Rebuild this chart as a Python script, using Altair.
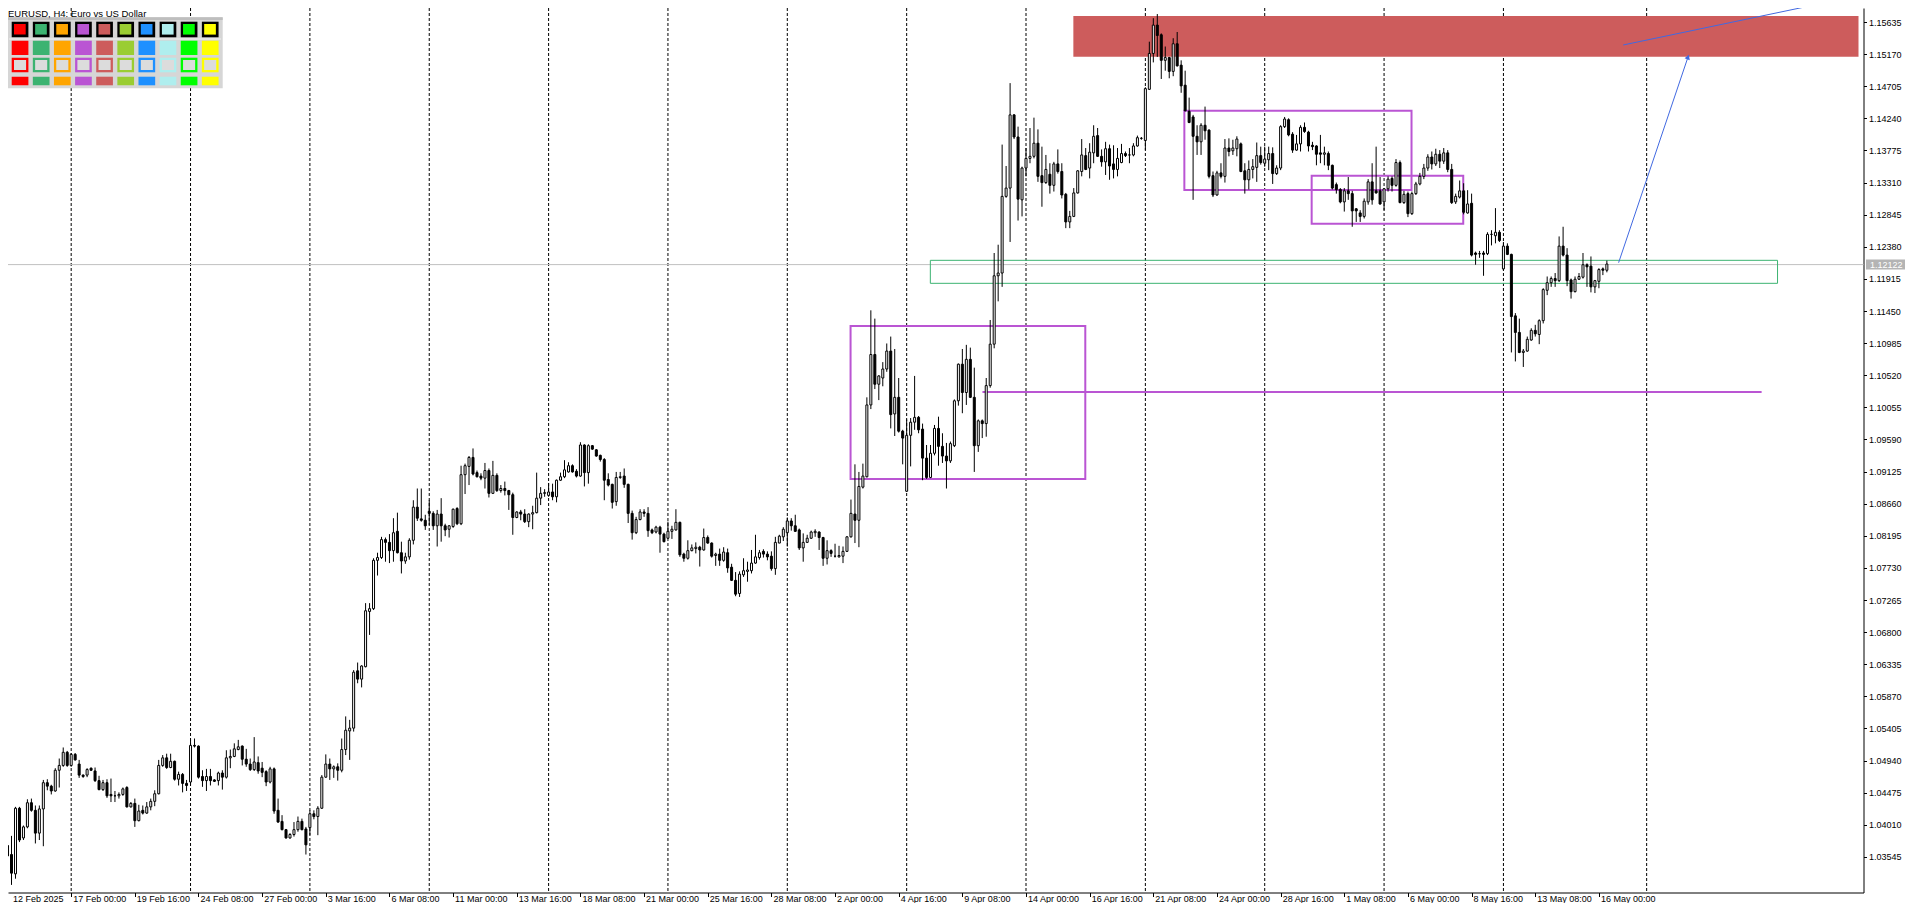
import altair as alt
import pandas as pd

# ---------------- data (EURUSD H4) ----------------
OPEN = [1.0371,1.0358,1.0330,1.0425,1.0382,1.0398,1.0433,1.0422,1.0389,1.0424,
1.0462,1.0457,1.0450,1.0480,1.0487,1.0506,1.0487,1.0503,1.0489,1.0473,
1.0473,1.0483,1.0479,1.0465,1.0452,1.0462,1.0445,1.0443,1.0443,1.0445,
1.0455,1.0427,1.0432,1.0407,1.0422,1.0418,1.0427,1.0435,1.0446,1.0487,
1.0498,1.0484,1.0493,1.0467,1.0474,1.0461,1.0463,1.0516,1.0515,1.0471,
1.0465,1.0471,1.0466,1.0465,1.0476,1.0470,1.0498,1.0500,1.0510,1.0515,
1.0496,1.0489,1.0481,1.0491,1.0483,1.0478,1.0463,1.0482,1.0422,1.0406,
1.0394,1.0382,1.0387,1.0394,1.0406,1.0395,1.0397,1.0417,1.0413,1.0425,
1.0470,1.0489,1.0482,1.0485,1.0480,1.0510,1.0537,1.0541,1.0624,1.0612,
1.0630,1.0710,1.0714,1.0784,1.0788,1.0814,1.0810,1.0798,1.0826,1.0795,
1.0783,1.0789,1.0813,1.0861,1.0844,1.0842,1.0855,1.0852,1.0834,1.0851,
1.0834,1.0829,1.0833,1.0859,1.0837,1.0908,1.0920,1.0933,1.0911,1.0906,
1.0903,1.0914,1.0881,1.0907,1.0885,1.0888,1.0885,1.0879,1.0846,1.0854,
1.0851,1.0840,1.0851,1.0853,1.0874,1.0881,1.0878,1.0883,1.0876,1.0900,
1.0905,1.0912,1.0921,1.0913,1.0906,1.0951,1.0911,1.0950,1.0944,1.0936,
1.0930,1.0901,1.0894,1.0869,1.0904,1.0906,1.0894,1.0852,1.0824,1.0843,
1.0854,1.0852,1.0828,1.0825,1.0832,1.0822,1.0816,1.0826,1.0828,1.0839,
1.0793,1.0787,1.0798,1.0801,1.0803,1.0799,1.0817,1.0809,1.0791,1.0793,
1.0784,1.0795,1.0774,1.0755,1.0736,1.0763,1.0768,1.0769,1.0780,1.0788,
1.0797,1.0793,1.0790,1.0772,1.0809,1.0818,1.0824,1.0841,1.0834,1.0828,
1.0802,1.0810,1.0816,1.0824,1.0825,1.0817,1.0787,1.0798,1.0790,1.0789,
1.0790,1.0797,1.0818,1.0851,1.0842,1.0890,1.0905,1.1009,1.1082,1.1039,
1.1048,1.1061,1.1087,1.0996,1.1020,1.0971,1.0884,1.0965,1.0984,1.0991,
1.0974,1.0932,1.0904,1.0939,1.0975,1.0949,1.0935,1.0928,1.0950,1.1015,
1.1068,1.1027,1.1075,1.1020,1.0950,1.0986,1.0982,1.1037,1.1097,1.1196,
1.1200,1.1311,1.1323,1.1429,1.1397,1.1306,1.1352,1.1366,1.1369,1.1388,
1.1341,1.1331,1.1343,1.1327,1.1358,1.1347,1.1314,1.1274,1.1282,1.1316,
1.1347,1.1370,1.1352,1.1374,1.1399,1.1369,1.1361,1.1380,1.1358,1.1350,
1.1360,1.1373,1.1371,1.1371,1.1384,1.1395,1.1392,1.1466,1.1518,1.1559,
1.1545,1.1508,1.1512,1.1492,1.1532,1.1501,1.1472,1.1434,1.1426,1.1398,
1.1390,1.1414,1.1407,1.1341,1.1313,1.1345,1.1340,1.1381,1.1377,1.1380,
1.1387,1.1348,1.1335,1.1350,1.1353,1.1370,1.1359,1.1364,1.1373,1.1344,
1.1352,1.1412,1.1422,1.1401,1.1378,1.1387,1.1411,1.1404,1.1385,1.1384,
1.1374,1.1372,1.1373,1.1356,1.1328,1.1321,1.1303,1.1319,1.1315,1.1293,
1.1287,1.1282,1.1303,1.1332,1.1319,1.1319,1.1303,1.1322,1.1337,1.1327,
1.1360,1.1302,1.1315,1.1286,1.1315,1.1329,1.1340,1.1352,1.1368,1.1358,
1.1372,1.1362,1.1374,1.1350,1.1303,1.1310,1.1319,1.1287,1.1301,1.1229,
1.1228,1.1229,1.1228,1.1256,1.1254,1.1259,1.1206,1.1239,1.1227,1.1138,
1.1114,1.1085,1.1087,1.1103,1.1117,1.1111,1.1131,1.1175,1.1186,1.1192,
1.1189,1.1239,1.1226,1.1190,1.1173,1.1191,1.1194,1.1212,1.1210,1.1180,
1.1188,1.1206,1.1204]

HIGH = [1.0376,1.0385,1.0427,1.0427,1.0400,1.0438,1.0439,1.0429,1.0429,1.0466,
1.0467,1.0459,1.0483,1.0497,1.0513,1.0508,1.0505,1.0505,1.0495,1.0474,
1.0483,1.0484,1.0484,1.0472,1.0466,1.0467,1.0468,1.0450,1.0448,1.0455,
1.0457,1.0434,1.0439,1.0430,1.0429,1.0434,1.0439,1.0451,1.0495,1.0502,
1.0504,1.0504,1.0494,1.0478,1.0476,1.0466,1.0524,1.0526,1.0516,1.0480,
1.0482,1.0482,1.0467,1.0478,1.0480,1.0509,1.0510,1.0519,1.0524,1.0516,
1.0511,1.0497,1.0528,1.0500,1.0492,1.0480,1.0485,1.0484,1.0439,1.0415,
1.0395,1.0389,1.0405,1.0413,1.0410,1.0398,1.0422,1.0422,1.0428,1.0473,
1.0503,1.0497,1.0487,1.0490,1.0526,1.0558,1.0553,1.0625,1.0636,1.0632,
1.0722,1.0722,1.0787,1.0795,1.0818,1.0817,1.0822,1.0845,1.0853,1.0811,
1.0795,1.0816,1.0871,1.0888,1.0888,1.0850,1.0871,1.0855,1.0857,1.0874,
1.0837,1.0835,1.0859,1.0861,1.0921,1.0924,1.0935,1.0946,1.0914,1.0910,
1.0925,1.0917,1.0928,1.0910,1.0893,1.0898,1.0886,1.0882,1.0855,1.0857,
1.0858,1.0852,1.0863,1.0911,1.0890,1.0887,1.0896,1.0895,1.0901,1.0911,
1.0929,1.0926,1.0923,1.0916,1.0955,1.0952,1.0952,1.0951,1.0945,1.0937,
1.0932,1.0910,1.0895,1.0912,1.0912,1.0917,1.0895,1.0856,1.0847,1.0858,
1.0858,1.0861,1.0830,1.0834,1.0834,1.0824,1.0840,1.0834,1.0858,1.0840,
1.0795,1.0813,1.0807,1.0810,1.0805,1.0830,1.0820,1.0810,1.0795,1.0801,
1.0803,1.0801,1.0779,1.0767,1.0768,1.0787,1.0782,1.0799,1.0821,1.0799,
1.0800,1.0797,1.0797,1.0818,1.0821,1.0832,1.0846,1.0845,1.0850,1.0830,
1.0823,1.0821,1.0827,1.0829,1.0826,1.0818,1.0813,1.0800,1.0808,1.0805,
1.0804,1.0819,1.0872,1.0923,1.0912,1.0924,1.1020,1.1146,1.1134,1.1052,
1.1071,1.1098,1.1108,1.1090,1.1048,1.0973,1.0988,1.0990,1.1051,1.0993,
1.0982,1.0951,1.0951,1.0980,1.0992,1.0968,1.0954,1.0956,1.1017,1.1069,
1.1090,1.1096,1.1092,1.1063,1.0988,1.0988,1.1048,1.1132,1.1229,1.1241,
1.1386,1.1355,1.1475,1.1430,1.1412,1.1354,1.1381,1.1410,1.1425,1.1408,
1.1383,1.1371,1.1359,1.1361,1.1379,1.1359,1.1316,1.1290,1.1323,1.1349,
1.1394,1.1381,1.1388,1.1414,1.1410,1.1379,1.1390,1.1386,1.1385,1.1381,
1.1387,1.1376,1.1381,1.1388,1.1399,1.1397,1.1469,1.1535,1.1569,1.1575,
1.1547,1.1528,1.1513,1.1540,1.1549,1.1508,1.1493,1.1454,1.1429,1.1414,
1.1417,1.1441,1.1408,1.1347,1.1348,1.1359,1.1394,1.1395,1.1393,1.1398,
1.1389,1.1359,1.1363,1.1365,1.1389,1.1383,1.1383,1.1383,1.1382,1.1356,
1.1414,1.1426,1.1424,1.1404,1.1400,1.1414,1.1418,1.1406,1.1390,1.1385,
1.1400,1.1383,1.1376,1.1357,1.1331,1.1323,1.1323,1.1339,1.1319,1.1294,
1.1291,1.1308,1.1336,1.1359,1.1383,1.1339,1.1323,1.1340,1.1340,1.1365,
1.1363,1.1319,1.1318,1.1318,1.1332,1.1345,1.1358,1.1372,1.1376,1.1380,
1.1378,1.1381,1.1378,1.1358,1.1315,1.1334,1.1330,1.1320,1.1315,1.1231,
1.1232,1.1232,1.1259,1.1262,1.1294,1.1262,1.1245,1.1243,1.1228,1.1142,
1.1134,1.1090,1.1108,1.1120,1.1125,1.1133,1.1178,1.1195,1.1195,1.1200,
1.1253,1.1267,1.1236,1.1192,1.1195,1.1200,1.1229,1.1214,1.1224,1.1190,
1.1207,1.1208,1.1218]

LOW = [1.0352,1.0314,1.0323,1.0376,1.0379,1.0396,1.0420,1.0374,1.0379,1.0370,
1.0451,1.0445,1.0449,1.0455,1.0485,1.0485,1.0485,1.0494,1.0469,1.0469,
1.0470,1.0479,1.0463,1.0451,1.0450,1.0440,1.0434,1.0434,1.0439,1.0443,
1.0426,1.0426,1.0398,1.0406,1.0416,1.0417,1.0422,1.0428,1.0445,1.0485,
1.0482,1.0483,1.0465,1.0458,1.0448,1.0450,1.0458,1.0513,1.0468,1.0456,
1.0450,1.0458,1.0463,1.0458,1.0452,1.0468,1.0483,1.0499,1.0509,1.0487,
1.0485,1.0479,1.0479,1.0475,1.0470,1.0457,1.0461,1.0417,1.0404,1.0393,
1.0381,1.0381,1.0384,1.0391,1.0393,1.0358,1.0386,1.0409,1.0386,1.0424,
1.0469,1.0466,1.0469,1.0465,1.0477,1.0502,1.0495,1.0536,1.0606,1.0600,
1.0629,1.0676,1.0712,1.0762,1.0786,1.0782,1.0780,1.0782,1.0794,1.0765,
1.0779,1.0785,1.0807,1.0841,1.0840,1.0828,1.0835,1.0828,1.0804,1.0811,
1.0819,1.0817,1.0831,1.0835,1.0835,1.0880,1.0893,1.0907,1.0904,1.0900,
1.0888,1.0875,1.0880,1.0883,1.0882,1.0878,1.0857,1.0821,1.0845,1.0842,
1.0838,1.0832,1.0829,1.0852,1.0864,1.0876,1.0876,1.0871,1.0868,1.0899,
1.0903,1.0911,1.0911,1.0904,1.0905,1.0891,1.0895,1.0944,1.0934,1.0927,
1.0871,1.0891,1.0859,1.0863,1.0902,1.0889,1.0838,1.0814,1.0822,1.0842,
1.0847,1.0818,1.0822,1.0823,1.0795,1.0810,1.0815,1.0815,1.0827,1.0789,
1.0782,1.0785,1.0797,1.0794,1.0775,1.0798,1.0808,1.0788,1.0776,1.0776,
1.0782,1.0766,1.0754,1.0732,1.0731,1.0760,1.0753,1.0765,1.0779,1.0785,
1.0788,1.0784,1.0769,1.0763,1.0809,1.0812,1.0804,1.0827,1.0825,1.0799,
1.0782,1.0809,1.0815,1.0818,1.0799,1.0776,1.0778,1.0789,1.0788,1.0788,
1.0780,1.0796,1.0817,1.0809,1.0803,1.0888,1.0904,1.1003,1.1032,1.1016,
1.1036,1.1057,1.0975,1.0964,1.0969,1.0923,1.0883,1.0920,1.0973,1.0968,
1.0900,1.0902,1.0903,1.0936,1.0921,1.0925,1.0888,1.0925,1.0948,1.1008,
1.0997,1.1009,1.1019,1.0912,1.0941,1.0961,1.0963,1.1034,1.1091,1.1159,
1.1180,1.1309,1.1245,1.1394,1.1276,1.1282,1.1340,1.1359,1.1366,1.1332,
1.1296,1.1329,1.1315,1.1318,1.1344,1.1308,1.1265,1.1265,1.1281,1.1315,
1.1340,1.1349,1.1337,1.1359,1.1368,1.1354,1.1342,1.1335,1.1337,1.1340,
1.1359,1.1368,1.1359,1.1369,1.1383,1.1393,1.1378,1.1465,1.1505,1.1513,
1.1481,1.1493,1.1482,1.1485,1.1499,1.1461,1.1434,1.1417,1.1306,1.1371,
1.1371,1.1393,1.1337,1.1310,1.1312,1.1337,1.1331,1.1369,1.1371,1.1369,
1.1346,1.1315,1.1321,1.1337,1.1332,1.1357,1.1354,1.1349,1.1329,1.1342,
1.1349,1.1410,1.1398,1.1374,1.1377,1.1376,1.1403,1.1376,1.1378,1.1356,
1.1359,1.1356,1.1349,1.1321,1.1315,1.1301,1.1289,1.1306,1.1267,1.1274,
1.1274,1.1279,1.1299,1.1299,1.1315,1.1299,1.1291,1.1318,1.1318,1.1325,
1.1301,1.1300,1.1281,1.1284,1.1313,1.1327,1.1336,1.1348,1.1350,1.1355,
1.1352,1.1358,1.1346,1.1300,1.1300,1.1308,1.1285,1.1286,1.1224,1.1212,
1.1222,1.1196,1.1226,1.1240,1.1243,1.1245,1.1204,1.1226,1.1085,1.1072,
1.1084,1.1064,1.1086,1.1102,1.1108,1.1097,1.1127,1.1168,1.1180,1.1180,
1.1187,1.1224,1.1181,1.1163,1.1172,1.1190,1.1192,1.1180,1.1172,1.1171,
1.1178,1.1197,1.1201]

CLOSE = [1.0356,1.0331,1.0425,1.0379,1.0398,1.0433,1.0422,1.0389,1.0424,1.0462,
1.0457,1.0450,1.0480,1.0487,1.0506,1.0487,1.0503,1.0495,1.0473,1.0471,
1.0481,1.0480,1.0465,1.0452,1.0462,1.0443,1.0443,1.0443,1.0445,1.0453,
1.0427,1.0432,1.0407,1.0421,1.0418,1.0427,1.0435,1.0446,1.0487,1.0498,
1.0484,1.0493,1.0467,1.0474,1.0461,1.0458,1.0516,1.0515,1.0470,1.0465,
1.0471,1.0465,1.0464,1.0476,1.0470,1.0498,1.0500,1.0511,1.0514,1.0496,
1.0489,1.0481,1.0492,1.0479,1.0477,1.0463,1.0482,1.0421,1.0405,1.0394,
1.0382,1.0387,1.0394,1.0406,1.0394,1.0372,1.0417,1.0413,1.0425,1.0470,
1.0489,1.0482,1.0485,1.0480,1.0510,1.0538,1.0541,1.0622,1.0612,1.0631,
1.0711,1.0714,1.0784,1.0788,1.0814,1.0810,1.0798,1.0824,1.0795,1.0783,
1.0789,1.0813,1.0861,1.0845,1.0842,1.0834,1.0852,1.0834,1.0851,1.0834,
1.0828,1.0834,1.0858,1.0837,1.0908,1.0921,1.0933,1.0909,1.0905,1.0903,
1.0914,1.0881,1.0907,1.0885,1.0888,1.0885,1.0879,1.0846,1.0854,1.0851,
1.0840,1.0851,1.0853,1.0874,1.0881,1.0882,1.0883,1.0876,1.0900,1.0905,
1.0915,1.0921,1.0912,1.0906,1.0951,1.0911,1.0950,1.0945,1.0935,1.0930,
1.0900,1.0893,1.0868,1.0904,1.0905,1.0894,1.0852,1.0824,1.0843,1.0854,
1.0852,1.0827,1.0824,1.0832,1.0822,1.0811,1.0826,1.0829,1.0839,1.0792,
1.0787,1.0798,1.0802,1.0803,1.0799,1.0817,1.0809,1.0790,1.0793,1.0784,
1.0796,1.0773,1.0755,1.0735,1.0764,1.0769,1.0770,1.0780,1.0789,1.0795,
1.0793,1.0789,1.0772,1.0810,1.0819,1.0829,1.0841,1.0834,1.0826,1.0802,
1.0810,1.0816,1.0825,1.0826,1.0817,1.0787,1.0798,1.0794,1.0790,1.0791,
1.0797,1.0818,1.0852,1.0842,1.0891,1.0906,1.1009,1.1082,1.1039,1.1051,
1.1061,1.1087,1.0995,1.1020,1.0971,1.0961,1.0965,1.0984,1.0991,1.0973,
1.0932,1.0904,1.0939,1.0975,1.0949,1.0935,1.0928,1.0953,1.1015,1.1068,
1.1027,1.1075,1.1020,1.0950,1.0986,1.0982,1.1037,1.1097,1.1196,1.1200,
1.1311,1.1323,1.1429,1.1397,1.1307,1.1352,1.1366,1.1369,1.1388,1.1340,
1.1331,1.1350,1.1327,1.1358,1.1347,1.1313,1.1274,1.1282,1.1316,1.1348,
1.1371,1.1350,1.1375,1.1398,1.1369,1.1361,1.1380,1.1355,1.1350,1.1366,
1.1373,1.1370,1.1371,1.1384,1.1396,1.1395,1.1467,1.1518,1.1559,1.1544,
1.1508,1.1512,1.1492,1.1532,1.1500,1.1471,1.1435,1.1418,1.1398,1.1390,
1.1414,1.1406,1.1340,1.1313,1.1345,1.1340,1.1381,1.1376,1.1381,1.1394,
1.1347,1.1335,1.1350,1.1354,1.1370,1.1360,1.1365,1.1373,1.1344,1.1352,
1.1412,1.1423,1.1400,1.1378,1.1387,1.1411,1.1405,1.1384,1.1383,1.1372,
1.1372,1.1374,1.1356,1.1323,1.1321,1.1303,1.1319,1.1315,1.1290,1.1290,
1.1282,1.1304,1.1332,1.1306,1.1316,1.1300,1.1322,1.1336,1.1327,1.1360,
1.1302,1.1314,1.1286,1.1315,1.1329,1.1340,1.1352,1.1368,1.1358,1.1372,
1.1362,1.1374,1.1350,1.1302,1.1311,1.1319,1.1288,1.1300,1.1226,1.1227,
1.1228,1.1227,1.1256,1.1256,1.1259,1.1247,1.1239,1.1227,1.1137,1.1114,
1.1085,1.1087,1.1104,1.1117,1.1112,1.1131,1.1176,1.1186,1.1192,1.1189,
1.1239,1.1226,1.1189,1.1173,1.1191,1.1195,1.1212,1.1209,1.1180,1.1189,
1.1205,1.1204,1.1213]

X_LABEL_BARS = [0, 16, 32, 48, 64, 80, 96, 112, 128, 144, 160, 176, 192, 208,
                224, 240, 256, 272, 288, 304, 320, 336, 352, 368, 384, 400]
X_LABELS = ["12 Feb 2025", "17 Feb 00:00", "19 Feb 16:00", "24 Feb 08:00", "27 Feb 00:00",
            "3 Mar 16:00", "6 Mar 08:00", "11 Mar 00:00", "13 Mar 16:00", "18 Mar 08:00",
            "21 Mar 00:00", "25 Mar 16:00", "28 Mar 08:00", "2 Apr 00:00", "4 Apr 16:00",
            "9 Apr 08:00", "14 Apr 00:00", "16 Apr 16:00", "21 Apr 08:00", "24 Apr 00:00",
            "28 Apr 16:00", "1 May 08:00", "6 May 00:00", "8 May 16:00", "13 May 08:00",
            "16 May 00:00"]
WEEK_GRID_BARS = [16, 46, 76, 106, 136, 166, 196, 226, 256, 286, 316, 346, 376, 412]
Y_TICKS = [1.03545, 1.04010, 1.04475, 1.04940, 1.05405, 1.05870, 1.06335, 1.06800,
           1.07265, 1.07730, 1.08195, 1.08660, 1.09125, 1.09590, 1.10055, 1.10520,
           1.10985, 1.11450, 1.11915, 1.12380, 1.12845, 1.13310, 1.13775, 1.14240,
           1.14705, 1.15170, 1.15635]
BID = 1.12122
TITLE = "EURUSD, H4: Euro vs US Dollar"

# chart objects (bar index / price anchors)
RED_ZONE = {"x0": 267.9, "top": 1.15722, "bot": 1.15133}
GREEN_BOX = {"x0": [231.95], "x1": [444.9], "top": [1.12184], "bot": [1.11851]}
PURPLE_BOXES = {"x0": [211.9, 295.8, 327.8], "x1": [270.9, 352.9, 365.9],
                "top": [1.11233, 1.14351, 1.13409], "bot": [1.09018, 1.13202, 1.12714]}
PURPLE_LINE = {"x0": [245.05], "x1": [440.9], "p": [1.10277]}
BLUE_LINES = {"x0": [404.95, 406.1], "x1": [422.4, 458.1],
              "y0": [1.12150, 1.15302], "y1": [1.15128, 1.15929]}
PANEL_COLORS = ["#FF0000", "#3CB371", "#FFA500", "#BA55D3", "#CD5C5C",
                "#9ACD32", "#1E90FF", "#AFEEEE", "#00FF00", "#FFFF00"]

# ---------------- layout ----------------
W, H = 1855.5, 884.5
BAR_PX = 4.0
BAR0_X = -5.5
XMIN = (0 - BAR0_X) / BAR_PX
XMAX = (W - BAR0_X) / BAR_PX
PX_PER_PRICE = 6906.0
REF_PRICE, REF_Y = 1.15635, 14.0
YMAX = REF_PRICE + REF_Y / PX_PER_PRICE
YMIN = REF_PRICE - (H - REF_Y) / PX_PER_PRICE
FONT = "Liberation Sans"

xs = alt.Scale(domain=[XMIN, XMAX], nice=False, zero=False)
ys = alt.Scale(domain=[YMIN, YMAX], nice=False, zero=False)
AX_X = alt.Axis(values=X_LABEL_BARS[1:], labels=False, tickSize=4, tickColor="black",
                tickWidth=1, domainColor="black", domainWidth=1, grid=False, title=None)
AX_Y = alt.Axis(orient="right", values=Y_TICKS, format=".5f", tickSize=3, tickColor="black",
                tickWidth=1, domainColor="black", domainWidth=1, labelFont=FONT,
                labelFontSize=9, labelColor="black", labelPadding=2, labelOverlap=False,
                labelFlush=False, grid=False, title=None)


def X(f):
    return alt.X(f, scale=xs, axis=AX_X, title=None)


def Y(f):
    return alt.Y(f, scale=ys, axis=AX_Y, title=None)


df = pd.DataFrame({"i": list(range(len(CLOSE))), "o": OPEN, "h": HIGH, "l": LOW, "c": CLOSE})

grid = alt.Chart(pd.DataFrame({"g": WEEK_GRID_BARS})).mark_rule(
    color="black", strokeWidth=1, strokeDash=[3, 2]).encode(x=X("g:Q"))

bidline = alt.Chart(pd.DataFrame({"p": [BID]})).mark_rule(
    color="#C0C0C0", strokeWidth=1).encode(y=Y("p:Q"))

red = alt.Chart(pd.DataFrame({"x0": [RED_ZONE["x0"]], "x1": [XMAX],
                              "t": [RED_ZONE["top"]], "b": [RED_ZONE["bot"]]})).mark_rect(
    color="#CD5C5C").encode(x=X("x0:Q"), x2="x1:Q", y=Y("t:Q"), y2="b:Q")

green = alt.Chart(pd.DataFrame(GREEN_BOX)).mark_rect(
    filled=False, color="#3CB371", strokeWidth=1).encode(
    x=X("x0:Q"), x2="x1:Q", y=Y("top:Q"), y2="bot:Q")

purple = alt.Chart(pd.DataFrame(PURPLE_BOXES)).mark_rect(
    filled=False, color="#BA55D3", strokeWidth=2).encode(
    x=X("x0:Q"), x2="x1:Q", y=Y("top:Q"), y2="bot:Q")

pline = alt.Chart(pd.DataFrame(PURPLE_LINE)).mark_rule(
    color="#BA55D3", strokeWidth=2).encode(x=X("x0:Q"), x2="x1:Q", y=Y("p:Q"))

wicks = alt.Chart(df).mark_rule(color="black", strokeWidth=1).encode(
    x=X("i:Q"), y=Y("l:Q"), y2="h:Q")

bodies = alt.Chart(df).mark_bar(size=2, stroke="black", strokeWidth=1).encode(
    x=X("i:Q"), y=Y("o:Q"), y2="c:Q",
    fill=alt.condition("datum.c >= datum.o", alt.value("white"), alt.value("black")))

blue = alt.Chart(pd.DataFrame(BLUE_LINES)).mark_rule(
    color="#4169E1", strokeWidth=1).encode(x=X("x0:Q"), x2="x1:Q", y=Y("y0:Q"), y2="y1:Q")

arrow = alt.Chart(pd.DataFrame({k: v[:1] for k, v in BLUE_LINES.items()})).mark_point(
    shape="triangle-up", filled=True, size=30, angle=21, color="#4169E1", opacity=1).encode(
    x=X("x1:Q"), y=Y("y1:Q"))

BOX_PATH = "M-1,-0.2564L1,-0.2564L1,0.2564L-1,0.2564Z"
bidbox = alt.Chart(pd.DataFrame({"p": [BID]})).mark_point(
    shape=BOX_PATH, size=39 * 39, filled=True, color="#B4B4B4", opacity=1).encode(
    x=alt.value(W + 22), y=Y("p:Q"))
bidtext = alt.Chart(pd.DataFrame({"p": [BID], "t": [f"{BID:.5f}"]})).mark_text(
    align="left", baseline="middle", color="white", font=FONT, fontSize=9).encode(
    x=alt.value(W + 6.5), y=Y("p:Q"), text="t:N")

xlabels = alt.Chart(pd.DataFrame({"bar": X_LABEL_BARS, "t": X_LABELS})).transform_calculate(
    xb=f"max(datum.bar, {XMIN - 0.5})").mark_text(
    align="left", baseline="middle", dx=2, font=FONT, fontSize=9, color="black").encode(
    x=X("xb:Q"), y=alt.value(H + 6.5), text="t:N")

main = alt.layer(grid, bidline, red, green, purple, pline, wicks, bodies, blue, arrow,
                 bidbox, bidtext, xlabels)

# ------------- colour toolbar panel (pixel layout) -------------
rows = []


def add(x0, x1, y0, y1, col):
    rows.append({"x0": x0, "x1": x1, "y0": y0, "y1": y1, "col": col})


add(-1, 214.7, 9.3, 80.3, "#D6D6D6")
add(-1, 214.7, 9.3, 12.0, "#BEBEBE")
add(1.0, 213.0, 30.5, 31.5, "#F0F0F0")
for k, col in enumerate(PANEL_COLORS):
    x0 = 3.7 + 21.13 * k
    x1 = x0 + 16.7
    add(x0, x1, 13.7, 29.3, "black")
    add(x0 + 2.3, x1 - 2.7, 16.0, 26.6, col)
    add(x0, x1, 32.7, 47.0, col)
    add(x0, x1, 49.7, 64.3, col)
    add(x0 + 2.3, x1 - 2.3, 52.0, 62.0, "#DCDCDC")
    add(x0, x1, 68.7, 77.3, col)

pxs_x = alt.Scale(domain=[0, W], nice=False, zero=False)
pxs_y = alt.Scale(domain=[0, H], nice=False, zero=False, reverse=True)
panel_rects = alt.Chart(pd.DataFrame(rows)).mark_rect().encode(
    x=alt.X("x0:Q", scale=pxs_x, axis=None), x2="x1:Q",
    y=alt.Y("y0:Q", scale=pxs_y, axis=None), y2="y1:Q",
    color=alt.Color("col:N", scale=None))

title = alt.Chart(pd.DataFrame({"t": [TITLE]})).mark_text(
    align="left", baseline="middle", font=FONT, fontSize=9.5, color="black").encode(
    x=alt.value(0), y=alt.value(5.5), text="t:N")

panel = alt.layer(panel_rects, title)

chart = alt.layer(main, panel).resolve_scale(x="independent", y="independent").properties(
    width=W, height=H,
    autosize=alt.AutoSizeParams(type="none"),
    padding={"left": 0, "top": 0, "right": 44, "bottom": 10.5},
    background="white",
).configure_view(stroke="transparent")

chart.save("out.html", embed_options={"renderer": "svg", "actions": False})
